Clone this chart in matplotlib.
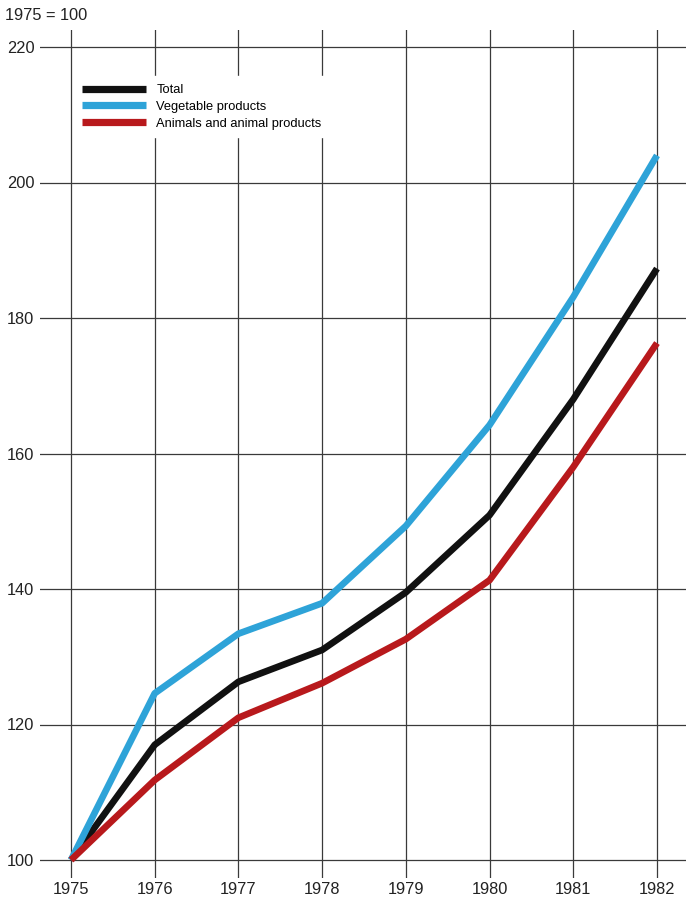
import matplotlib.pyplot as plt

years = [1975, 1976, 1977, 1978, 1979, 1980, 1981, 1982]
total = [100, 117.0, 126.3, 131.0, 139.5, 150.9, 168.0, 187.3]
vegetable = [100, 124.6, 133.4, 137.9, 149.3, 164.2, 183.1, 204.0]
animal = [100, 111.8, 121.0, 126.1, 132.6, 141.3, 158.0, 176.3]
yticks = [100, 120, 140, 160, 180, 200, 220]

plt.rcParams['font.family'] = ['Liberation Sans', 'DejaVu Sans']

fig = plt.figure(figsize=(6.86, 9), dpi=100)
ax = fig.add_axes([40/686, 22/900, 646/686, 848/900])

ax.plot(years, total, color='#111111', lw=4.8, label='Total', solid_capstyle='butt', zorder=3)
ax.plot(years, vegetable, color='#2ea3d8', lw=4.8, label='Vegetable products', solid_capstyle='butt', zorder=3)
ax.plot(years, animal, color='#b8191c', lw=4.8, label='Animals and animal products', solid_capstyle='butt', zorder=3)

ax.set_xlim(1975 - 31/83.71, 1975 + 615/83.71)
ax.set_ylim(100 - 18/6.775, 220 + 17/6.775)
ax.set_xticks(years)
ax.set_yticks(yticks)
ax.grid(True, color='#3a3a3a', lw=0.9)
ax.set_axisbelow(True)
for s in ax.spines.values():
    s.set_visible(False)
ax.tick_params(length=0, labelsize=11.8, colors='#222222')
ax.tick_params(axis='y', pad=4)
ax.tick_params(axis='x', pad=3)

leg = ax.legend(loc='upper left', bbox_to_anchor=(28/646, 1 - 40/848),
                frameon=True, fontsize=9.3, handlelength=4.95, handletextpad=0.78,
                labelspacing=0.36, borderpad=0.6, fancybox=False)
leg.get_frame().set_facecolor('white')
leg.get_frame().set_edgecolor('white')
leg.get_frame().set_alpha(1)
for h in leg.get_lines():
    h.set_linewidth(5.2)

fig.text(5/686, 1 - 15/900, '1975 = 100', fontsize=11.8, va='center', ha='left', color='#222222')

fig.savefig('out.png', dpi=100)
